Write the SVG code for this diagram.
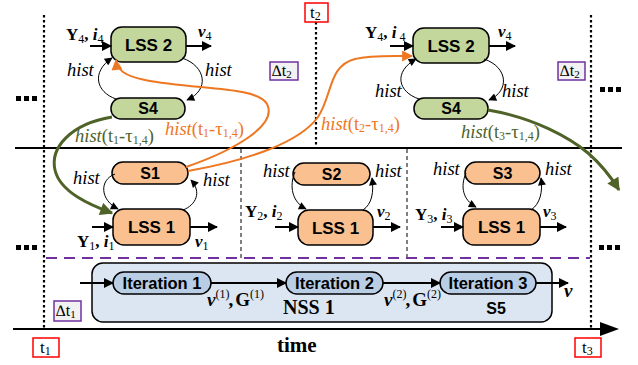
<svg xmlns="http://www.w3.org/2000/svg" width="638" height="365" viewBox="0 0 638 365">
<style>
.gn{fill:#C3D69B;stroke:#000;stroke-width:1.5}
.on{fill:#FAC090;stroke:#000;stroke-width:1.5}
.it{fill:#B9CDE5;stroke:#000;stroke-width:1.5}
.ns{fill:#DCE6F2;stroke:#000;stroke-width:1.5}
.lb{font-family:"Liberation Sans",Arial,sans-serif;font-weight:bold;text-anchor:middle;fill:#000}
.tm{font-family:"Liberation Serif","Times New Roman",serif;fill:#000}
.tg{font-family:"Liberation Serif","Times New Roman",serif;font-size:18.5px;fill:#4F6228}
.to{font-family:"Liberation Serif","Times New Roman",serif;font-size:18.5px;fill:#EE7722}
.hs{font-family:"Liberation Serif","Times New Roman",serif;font-style:italic;font-size:18.5px;fill:#000}
.ln{fill:none;stroke:#000;stroke-width:1}
.ar{fill:none;stroke:#000;stroke-width:2}
.dot{stroke:#000;stroke-width:2.2;stroke-dasharray:2.5 2.5;fill:none}
.dsh{stroke:#000;stroke-width:1;stroke-dasharray:4 3;fill:none}
.tb{fill:#fff;stroke:#FF0000;stroke-width:1.5}
.db{fill:#F2F2F2;stroke:#7030A0;stroke-width:1.5}
</style>
<defs>
<marker id="ah" viewBox="0 0 10 10" refX="9" refY="5" markerWidth="11" markerHeight="10" orient="auto" markerUnits="userSpaceOnUse"><path d="M0,0 L10,5 L0,10 z" fill="#000"/></marker>
<marker id="sh" viewBox="0 0 10 10" refX="9" refY="5" markerWidth="9" markerHeight="8" orient="auto" markerUnits="userSpaceOnUse"><path d="M0,0 L10,5 L0,10 z" fill="#000"/></marker>
<marker id="oh" viewBox="0 0 10 10" refX="9" refY="5" markerWidth="12" markerHeight="11" orient="auto" markerUnits="userSpaceOnUse"><path d="M0,0 L10,5 L0,10 z" fill="#EE7722"/></marker>
<marker id="gh" viewBox="0 0 10 10" refX="9" refY="5" markerWidth="14" markerHeight="13" orient="auto" markerUnits="userSpaceOnUse"><path d="M0,0 L10,5 L0,10 z" fill="#4F6228"/></marker>
</defs>

<!-- frame lines -->
<g id="frame">
<line x1="44" y1="15" x2="44" y2="330" class="dot"/>
<line x1="316" y1="22" x2="316" y2="148" class="dot"/>
<line x1="591" y1="15" x2="591" y2="330" class="dot"/>
<line x1="15" y1="148" x2="622" y2="148" stroke="#000" stroke-width="2"/>
<line x1="241" y1="149" x2="241" y2="258" class="dsh"/>
<line x1="407" y1="149" x2="407" y2="258" class="dsh"/>
<line x1="46" y1="258" x2="590" y2="258" stroke="#7030A0" stroke-width="2" stroke-dasharray="11 7"/>
<line x1="13" y1="329" x2="601" y2="329" stroke="#000" stroke-width="2"/>
<polygon points="600,322 619,329 600,336" fill="#000"/>
<g fill="#000">
<rect x="16" y="96" width="5" height="5"/><rect x="24" y="96" width="5" height="5"/><rect x="32" y="96" width="5" height="5"/>
<rect x="600" y="87" width="5" height="5"/><rect x="608" y="87" width="5" height="5"/><rect x="616" y="87" width="5" height="5"/>
<rect x="16" y="245" width="5" height="5"/><rect x="24" y="245" width="5" height="5"/><rect x="32" y="245" width="5" height="5"/>
<rect x="599" y="245" width="5" height="5"/><rect x="607" y="245" width="5" height="5"/><rect x="615" y="245" width="5" height="5"/>
</g>
</g>

<!-- time markers -->
<g id="t1"><rect x="33" y="338" width="26" height="19" class="tb"/><text x="40" y="353" class="tm" font-size="17">t<tspan font-size="12" dy="2">1</tspan></text></g>
<g id="t2"><rect x="305" y="3" width="23" height="19" class="tb"/><text x="310" y="18" class="tm" font-size="17">t<tspan font-size="12" dy="2">2</tspan></text></g>
<g id="t3"><rect x="575" y="338" width="26" height="19" class="tb"/><text x="582" y="353" class="tm" font-size="17">t<tspan font-size="12" dy="2">3</tspan></text></g>
<g id="dt1"><rect x="54" y="301" width="27" height="20" class="db"/><text x="56" y="316" class="tm" font-size="16">∆t<tspan font-size="11" dy="2">1</tspan></text></g>
<g id="dt2a"><rect x="270" y="62" width="28" height="18" class="db"/><text x="272" y="76" class="tm" font-size="16">∆t<tspan font-size="11" dy="2">2</tspan></text></g>
<g id="dt2b"><rect x="558" y="62" width="27" height="18" class="db"/><text x="560" y="76" class="tm" font-size="16">∆t<tspan font-size="11" dy="2">2</tspan></text></g>
<text x="277" y="352" class="tm" font-size="21" font-weight="bold">time</text>

<!-- nodes -->
<g id="lss2a"><rect x="111" y="27" width="75" height="35" rx="11" class="gn"/><text x="148.5" y="51" class="lb" font-size="17">LSS 2</text></g>
<g id="s4a"><rect x="111" y="98" width="74" height="21" rx="10" class="gn"/><text x="148" y="114" class="lb" font-size="16">S4</text></g>
<g id="lss2b"><rect x="413" y="28" width="76" height="35" rx="11" class="gn"/><text x="451" y="52" class="lb" font-size="17">LSS 2</text></g>
<g id="s4b"><rect x="414" y="98" width="74" height="21" rx="10" class="gn"/><text x="451" y="114" class="lb" font-size="16">S4</text></g>

<g id="s1"><rect x="112" y="162" width="76" height="22" rx="11" class="on"/><text x="150" y="179" class="lb" font-size="16">S1</text></g>
<g id="lss1a"><rect x="113" y="209" width="77" height="36" rx="11" class="on"/><text x="151.5" y="233" class="lb" font-size="17">LSS 1</text></g>
<g id="s2"><rect x="293" y="163" width="77" height="22" rx="11" class="on"/><text x="331.5" y="180" class="lb" font-size="16">S2</text></g>
<g id="lss1b"><rect x="298" y="210" width="75" height="35" rx="11" class="on"/><text x="335.5" y="234" class="lb" font-size="17">LSS 1</text></g>
<g id="s3"><rect x="465" y="162" width="75" height="22" rx="11" class="on"/><text x="502.5" y="179" class="lb" font-size="16">S3</text></g>
<g id="lss1c"><rect x="463" y="209" width="77" height="36" rx="11" class="on"/><text x="501.5" y="233" class="lb" font-size="17">LSS 1</text></g>

<g id="nss1"><rect x="92" y="263" width="460" height="59" rx="11" class="ns"/><text x="283" y="314" class="tm" font-size="20" font-weight="bold">NSS 1</text><text x="496" y="314" class="lb" font-size="16">S5</text></g>
<g id="iter1"><rect x="113" y="272" width="98" height="22" rx="11" class="it"/><text x="162" y="289" class="lb" font-size="16.5">Iteration 1</text></g>
<g id="iter2"><rect x="286" y="272" width="97" height="22" rx="11" class="it"/><text x="334.5" y="289" class="lb" font-size="16.5">Iteration 2</text></g>
<g id="iter3"><rect x="440" y="272" width="96" height="22" rx="11" class="it"/><text x="488" y="289" class="lb" font-size="16.5">Iteration 3</text></g>

<!-- connectors -->
<g id="connectors">
<line x1="90" y1="46" x2="111" y2="46" class="ar" marker-end="url(#ah)"/>
<line x1="186" y1="46" x2="211" y2="46" class="ar" marker-end="url(#ah)"/>
<line x1="390" y1="46" x2="413" y2="46" class="ar" marker-end="url(#ah)"/>
<line x1="489" y1="46" x2="515" y2="46" class="ar" marker-end="url(#ah)"/>
<line x1="92" y1="227" x2="113" y2="227" class="ar" marker-end="url(#ah)"/>
<line x1="190" y1="227" x2="217" y2="227" class="ar" marker-end="url(#ah)"/>
<line x1="275" y1="227" x2="298" y2="227" class="ar" marker-end="url(#ah)"/>
<line x1="373" y1="227" x2="400" y2="227" class="ar" marker-end="url(#ah)"/>
<line x1="441" y1="227" x2="463" y2="227" class="ar" marker-end="url(#ah)"/>
<line x1="540" y1="227" x2="566" y2="227" class="ar" marker-end="url(#ah)"/>
<line x1="80" y1="283" x2="113" y2="283" class="ar" marker-end="url(#ah)"/>
<line x1="211" y1="283" x2="286" y2="283" class="ar" marker-end="url(#ah)"/>
<line x1="383" y1="283" x2="440" y2="283" class="ar" marker-end="url(#ah)"/>
<line x1="536" y1="283" x2="568" y2="283" class="ar" marker-end="url(#ah)"/>

<path d="M116,99 C96,92 91,72 112,58" class="ln" marker-end="url(#sh)"/>
<path d="M182,58 C206,66 210,90 187,100" class="ln" marker-end="url(#sh)"/>
<path d="M419,99 C398,92 393,72 416,59" class="ln" marker-end="url(#sh)"/>
<path d="M484,59 C508,67 510,91 489,100" class="ln" marker-end="url(#sh)"/>

<path d="M115,174 C99,180 100,200 118,209" class="ln" marker-end="url(#sh)"/>
<path d="M183,210 C196,205 202,192 191,180" class="ln" marker-end="url(#sh)"/>
<path d="M295,172 C289,186 292,202 306,209" class="ln" marker-end="url(#sh)"/>
<path d="M363,210 C372,204 374,192 372,178" class="ln" marker-end="url(#sh)"/>
<path d="M466,173 C460,187 463,200 476,207" class="ln" marker-end="url(#sh)"/>
<path d="M531,210 C540,204 543,192 541,178" class="ln" marker-end="url(#sh)"/>

<path d="M186,167 C235,150 278,125 267,104 C257,86 195,90 145,80 C125,76 117,70 116,60" fill="none" stroke="#EE7722" stroke-width="2" marker-end="url(#oh)"/>
<path d="M188,171 C250,160 300,142 318,117 C333,94 328,66 355,59 C370,55 390,56 412,56" fill="none" stroke="#EE7722" stroke-width="2" marker-end="url(#oh)"/>
<path d="M112,117 C70,124 50,148 55,170 C60,192 90,205 112,213" fill="none" stroke="#4F6228" stroke-width="3" marker-end="url(#gh)"/>
<path d="M488,110 C535,118 570,138 588,153 C603,166 611,177 619,190" fill="none" stroke="#4F6228" stroke-width="3" marker-end="url(#gh)"/>
</g>

<!-- labels -->
<g id="labels">
<text x="66" y="40" class="tm" font-size="17"><tspan font-weight="bold">Y</tspan><tspan font-size="12" dy="3">4</tspan><tspan dy="-3" font-weight="bold">, </tspan><tspan font-weight="bold" font-style="italic">i</tspan><tspan font-size="12" dy="3">4</tspan></text>
<text x="198" y="37" class="tm" font-size="17"><tspan font-weight="bold" font-style="italic">v</tspan><tspan font-size="12" dy="3">4</tspan></text>
<text x="365" y="38" class="tm" font-size="17"><tspan font-weight="bold">Y</tspan><tspan font-size="12" dy="3">4</tspan><tspan dy="-3" font-weight="bold">, </tspan><tspan font-weight="bold" font-style="italic">i</tspan><tspan font-size="12" dy="3"> 4</tspan></text>
<text x="498" y="37" class="tm" font-size="17"><tspan font-weight="bold" font-style="italic">v</tspan><tspan font-size="12" dy="3">4</tspan></text>
<text x="77" y="247" class="tm" font-size="17"><tspan font-weight="bold">Y</tspan><tspan font-size="12" dy="3">1</tspan><tspan dy="-3" font-weight="bold">, </tspan><tspan font-weight="bold" font-style="italic">i</tspan><tspan font-size="12" dy="3">1</tspan></text>
<text x="195" y="247" class="tm" font-size="17"><tspan font-weight="bold" font-style="italic">v</tspan><tspan font-size="12" dy="3">1</tspan></text>
<text x="245" y="217" class="tm" font-size="17"><tspan font-weight="bold">Y</tspan><tspan font-size="12" dy="3">2</tspan><tspan dy="-3" font-weight="bold">, </tspan><tspan font-weight="bold" font-style="italic">i</tspan><tspan font-size="12" dy="3">2</tspan></text>
<text x="377" y="217" class="tm" font-size="17"><tspan font-weight="bold" font-style="italic">v</tspan><tspan font-size="12" dy="3">2</tspan></text>
<text x="415" y="220" class="tm" font-size="17"><tspan font-weight="bold">Y</tspan><tspan font-size="12" dy="3">3</tspan><tspan dy="-3" font-weight="bold">, </tspan><tspan font-weight="bold" font-style="italic">i</tspan><tspan font-size="12" dy="3">3</tspan></text>
<text x="543" y="217" class="tm" font-size="17"><tspan font-weight="bold" font-style="italic">v</tspan><tspan font-size="12" dy="3">3</tspan></text>

<text x="67" y="76" class="hs">hist</text>
<text x="205" y="76" class="hs">hist</text>
<text x="375" y="97" class="hs">hist</text>
<text x="502" y="97" class="hs">hist</text>
<text x="73" y="184" class="hs">hist</text>
<text x="203" y="186" class="hs">hist</text>
<text x="263" y="177" class="hs">hist</text>
<text x="375" y="177" class="hs">hist</text>
<text x="433" y="175" class="hs">hist</text>
<text x="545" y="175" class="hs">hist</text>

<text x="75" y="142" class="tg"><tspan font-style="italic">hist</tspan>(t<tspan font-size="12" dy="2">1</tspan><tspan dy="-2">-τ</tspan><tspan font-size="12" dy="2">1,4</tspan><tspan dy="-2">)</tspan></text>
<text x="165" y="135" class="to"><tspan font-style="italic">hist</tspan>(t<tspan font-size="12" dy="2">1</tspan><tspan dy="-2">-τ</tspan><tspan font-size="12" dy="2">1,4</tspan><tspan dy="-2">)</tspan></text>
<text x="321" y="130" class="to"><tspan font-style="italic">hist</tspan>(t<tspan font-size="12" dy="2">2</tspan><tspan dy="-2">-τ</tspan><tspan font-size="12" dy="2">1,4</tspan><tspan dy="-2">)</tspan></text>
<text x="461" y="138" class="tg"><tspan font-style="italic">hist</tspan>(t<tspan font-size="12" dy="2">3</tspan><tspan dy="-2">-τ</tspan><tspan font-size="12" dy="2">1,4</tspan><tspan dy="-2">)</tspan></text>

<text x="207" y="306" class="tm" font-size="19" font-weight="bold"><tspan font-style="italic">v</tspan><tspan font-size="12" font-weight="normal" dy="-8">(1)</tspan><tspan dy="8" dx="-1">,</tspan><tspan dx="2">G</tspan><tspan font-size="12" font-weight="normal" dy="-8">(1)</tspan></text>
<text x="384" y="306" class="tm" font-size="19" font-weight="bold"><tspan font-style="italic">v</tspan><tspan font-size="12" font-weight="normal" dy="-8">(2)</tspan><tspan dy="8" dx="-1">,</tspan><tspan dx="2">G</tspan><tspan font-size="12" font-weight="normal" dy="-8">(2)</tspan></text>
<text x="564" y="297" class="tm" font-size="19" font-weight="bold" font-style="italic">v</text>
</g>
</svg>
